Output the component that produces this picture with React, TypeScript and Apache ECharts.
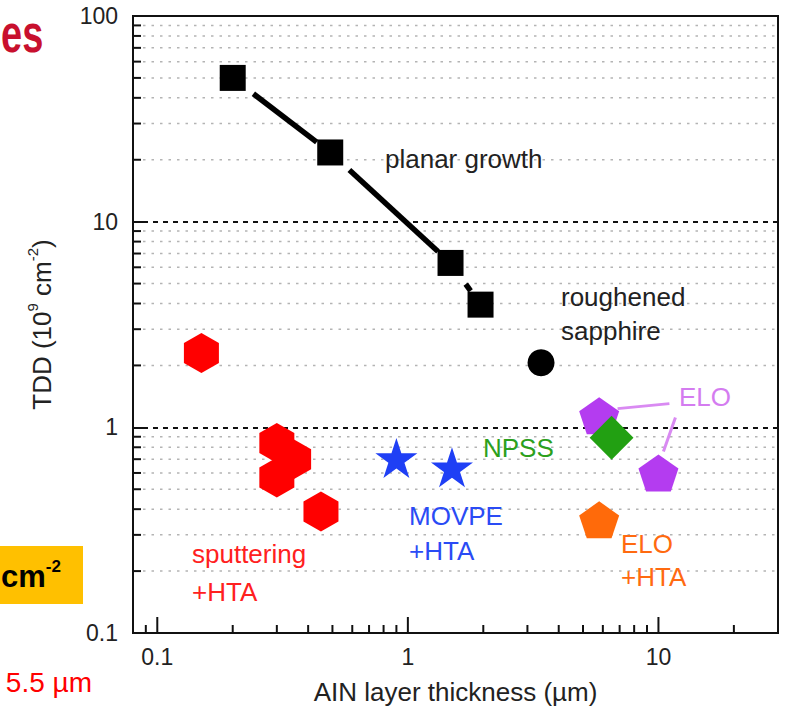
import React, { useEffect, useRef } from "react";
import * as echarts from "echarts";

const FONT = "'Liberation Sans', Arial, Helvetica, sans-serif";

// ---- data (AlN layer thickness in µm, TDD in 1e9 cm^-2) ----
const planarX = [0.2, 0.49, 1.48, 1.95];
const planarY = [50, 21.7, 6.3, 3.95];
const sputterX = [0.15, 0.3, 0.35, 0.3, 0.45];
const sputterY = [2.3, 0.84, 0.7, 0.57, 0.39];
const movpeX = [0.9, 1.5];
const movpeY = [0.71, 0.64];
const roughX = [3.4];
const roughY = [2.06];
const eloX = [5.8, 10];
const eloY = [1.14, 0.6];
const npssX = [6.5];
const npssY = [0.89];
const eloHtaX = [5.8];
const eloHtaY = [0.355];
const eloPointerFrom = [[6.87, 1.233], [11.69, 1.115]];
const eloPointerTo = [[11.06, 1.304], [10.47, 0.762]];

// ---- axes ----
const xMin = 0.08;
const xMax = 30;
const yMin = 0.1;
const yMax = 100;
const xMajorTicks = [0.1, 1, 10];
const xTickLabels = ["0.1", "1", "10"];
const xMinorTicks = [0.09, 0.2, 0.3, 0.4, 0.5, 0.6, 0.7, 0.8, 0.9, 2, 3, 4, 5, 6, 7, 8, 9, 20];
const yMinorTicks = [0.2, 0.3, 0.4, 0.5, 0.6, 0.7, 0.8, 0.9, 2, 3, 4, 5, 6, 7, 8, 9, 20, 30, 40, 50, 60, 70, 80, 90];

const hexPath = "path://M0,-100 L86.6,-50 L86.6,50 L0,100 L-86.6,50 L-86.6,-50 Z";
const pentPath = "path://M0,-100 L95.1,-30.9 L58.8,80.9 L-58.8,80.9 L-95.1,-30.9 Z";
const starPath = (() => {
  const pts: string[] = [];
  for (let i = 0; i < 10; i++) {
    const r = i % 2 === 0 ? 100 : 38.2;
    const a = -Math.PI / 2 + (i * Math.PI) / 5;
    pts.push(`${(r * Math.cos(a)).toFixed(2)},${(r * Math.sin(a)).toFixed(2)}`);
  }
  return "path://M" + pts.join(" L") + " Z";
})();

const zip = (xs: number[], ys: number[]) => xs.map((x, i) => [x, ys[i]]);

export default function App() {
  const ref = useRef<HTMLDivElement>(null);
  useEffect(() => {
    document.body.style.margin = "0";
    if (!ref.current) return;
    const chart = echarts.init(ref.current, undefined, { renderer: "svg" });

    const segs = planarX.slice(0, -1).map((x, i) => [x, planarY[i], planarX[i + 1], planarY[i + 1]]);

    const label = (text: string, x: number, y: number, fill: string) => ({
      type: "text",
      x,
      y,
      z: 20,
      style: { text, fill, fontSize: 26, fontFamily: FONT, align: "left", verticalAlign: "middle" },
    });

    const sc = (name: string, symbol: string, size: any, color: string, xs: number[], ys: number[], extra: any = {}) => ({
      type: "scatter",
      name,
      z: 5,
      symbol,
      symbolSize: size,
      itemStyle: { color, opacity: 1 },
      data: zip(xs, ys),
      ...extra,
    });

    const option: any = {
      animation: false,
      backgroundColor: "#ffffff",
      grid: { left: 133, right: 9, top: 16, bottom: 83, show: true, borderColor: "#111", borderWidth: 2, backgroundColor: "transparent" },
      xAxis: {
        type: "log",
        logBase: 10,
        min: xMin,
        max: xMax,
        axisLine: { show: true, lineStyle: { color: "#111", width: 2 } },
        axisTick: { show: false },
        splitLine: { show: false },
        axisLabel: { show: false },
        name: "AIN layer thickness (µm)",
        nameLocation: "middle",
        nameGap: 46,
        nameTextStyle: { fontSize: 26, fontFamily: FONT, color: "#222" },
      },
      yAxis: {
        type: "log",
        logBase: 10,
        min: yMin,
        max: yMax,
        interval: 1,
        axisLine: { show: true, lineStyle: { color: "#111", width: 2 } },
        axisTick: { show: true, inside: true, length: 13, lineStyle: { color: "#111", width: 2 } },
        splitLine: { show: true, lineStyle: { color: "#111", width: 2, type: [5, 5] } },
        axisLabel: {
          fontSize: 23,
          fontFamily: FONT,
          color: "#222",
          margin: 15,
          formatter: (v: number) => {
            const l = Math.round(Math.log10(v));
            const r = Math.pow(10, l);
            return r < 1 ? r.toFixed(-l) : String(r);
          },
        },
        name: "{a|TDD (10}{s|9}{a| cm}{s|-2}{a|)}",
        nameLocation: "middle",
        nameRotate: 90,
        nameGap: 78,
        nameTextStyle: {
          rich: {
            a: { fontSize: 26, fontFamily: FONT, color: "#222", lineHeight: 30, verticalAlign: "bottom" },
            s: { fontSize: 15, fontFamily: FONT, color: "#222", lineHeight: 15, verticalAlign: "top" },
          },
        },
      },
      series: [
        {
          type: "custom",
          name: "minorGridY",
          silent: true,
          z: 1,
          data: yMinorTicks.map((v) => [1, v]),
          encode: { x: 0, y: 1 },
          renderItem: (params: any, api: any) => {
            const p = api.coord([1, api.value(1)]);
            const cs = params.coordSys;
            return {
              type: "group",
              children: [
                { type: "line", shape: { x1: cs.x + 10, y1: p[1], x2: cs.x + cs.width, y2: p[1] }, style: { stroke: "#b4b4b4", lineWidth: 1.5, lineDash: [2.5, 6] } },
                { type: "line", shape: { x1: cs.x, y1: p[1], x2: cs.x + 8, y2: p[1] }, style: { stroke: "#111", lineWidth: 2 } },
              ],
            };
          },
        },
        {
          type: "custom",
          name: "xMinorTicks",
          silent: true,
          z: 1,
          data: xMinorTicks.map((v) => [v, 1]),
          encode: { x: 0, y: 1 },
          renderItem: (params: any, api: any) => {
            const p = api.coord([api.value(0), 1]);
            const cs = params.coordSys;
            const b = cs.y + cs.height;
            return { type: "line", shape: { x1: p[0], y1: b, x2: p[0], y2: b - 8 }, style: { stroke: "#111", lineWidth: 2 } };
          },
        },
        {
          type: "custom",
          name: "xMajorTicks",
          silent: true,
          z: 1,
          data: xMajorTicks.map((v) => [v, 1]),
          encode: { x: 0, y: 1 },
          renderItem: (params: any, api: any) => {
            const p = api.coord([api.value(0), 1]);
            const cs = params.coordSys;
            const b = cs.y + cs.height;
            return {
              type: "group",
              children: [
                { type: "line", shape: { x1: p[0], y1: b, x2: p[0], y2: b - 16 }, style: { stroke: "#111", lineWidth: 2 } },
                {
                  type: "text",
                  x: p[0],
                  y: b + 24,
                  style: { text: xTickLabels[params.dataIndex], fill: "#222", fontSize: 23, fontFamily: FONT, align: "center", verticalAlign: "middle" },
                },
              ],
            };
          },
        },
        {
          type: "custom",
          name: "planarLine",
          silent: true,
          z: 4,
          data: segs,
          encode: { x: [0, 2], y: [1, 3] },
          renderItem: (params: any, api: any) => {
            const a = api.coord([api.value(0), api.value(1)]);
            const b = api.coord([api.value(2), api.value(3)]);
            const dx = b[0] - a[0];
            const dy = b[1] - a[1];
            const d = Math.hypot(dx, dy);
            const ux = dx / d;
            const uy = dy / d;
            return {
              type: "line",
              shape: { x1: a[0] + ux * 26, y1: a[1] + uy * 26, x2: b[0] - ux * 17, y2: b[1] - uy * 17 },
              style: { stroke: "#000", lineWidth: 5.5 },
            };
          },
        },
        sc("planar growth", "rect", 26, "#000", planarX, planarY),
        sc("sputtering +HTA", hexPath, [35, 40], "#ff0000", sputterX, sputterY),
        sc("MOVPE +HTA", starPath, [42, 40], "#1f3ff5", movpeX, movpeY),
        sc("roughened sapphire", "circle", 27, "#000", roughX, roughY),
        sc("ELO", pentPath, [40, 37], "#b43cf0", eloX, eloY, {
          markLine: {
            silent: true,
            symbol: "none",
            label: { show: false },
            lineStyle: { color: "#d98af2", width: 3, type: "solid", opacity: 1 },
            data: eloPointerFrom.map((f, i) => [{ coord: f }, { coord: eloPointerTo[i] }]),
          },
        }),
        sc("NPSS", "rect", 31, "#22a012", npssX, npssY, { z: 6, symbolRotate: 45 }),
        sc("ELO +HTA", pentPath, [40, 37], "#ff6a0a", eloHtaX, eloHtaY),
      ],
      graphic: [
        label("planar growth", 385, 159, "#222"),
        label("roughened", 561, 297, "#222"),
        label("sapphire", 561, 331, "#222"),
        label("ELO", 679, 397, "#d47cf0"),
        label("NPSS", 483, 448, "#2ca01c"),
        label("MOVPE", 409, 516, "#2a4bf5"),
        label("+HTA", 409, 551, "#2a4bf5"),
        label("ELO", 621, 544, "#ff6a10"),
        label("+HTA", 621, 577, "#ff6a10"),
        label("sputtering", 192, 554, "#ff2020"),
        label("+HTA", 192, 592, "#ff2020"),
        // slide fragments at left
        {
          type: "text",
          x: 1,
          y: 34,
          scaleY: 1.4,
          style: { text: "es", fill: "#c8102e", fontSize: 38, fontWeight: "bold", fontFamily: FONT, align: "left", verticalAlign: "middle" },
        },
        { type: "rect", shape: { x: 0, y: 546, width: 83, height: 58 }, style: { fill: "#ffc000" } },
        {
          type: "text",
          x: 1,
          y: 575,
          style: {
            text: "{a|cm}{s|-2}",
            align: "left",
            verticalAlign: "middle",
            rich: {
              a: { fontSize: 31, fontWeight: "bold", fontFamily: FONT, fill: "#000", lineHeight: 34, verticalAlign: "bottom" },
              s: { fontSize: 17, fontWeight: "bold", fontFamily: FONT, fill: "#000", lineHeight: 17, verticalAlign: "top" },
            },
          },
        },
        {
          type: "text",
          x: 92,
          y: 682,
          style: { text: "5.5 µm", fill: "#ff0000", fontSize: 28, fontFamily: FONT, align: "right", verticalAlign: "middle" },
        },
      ],
    };
    chart.setOption(option);
    return () => chart.dispose();
  }, []);
  return <div ref={ref} style={{ width: 787, height: 716 }} />;
}
